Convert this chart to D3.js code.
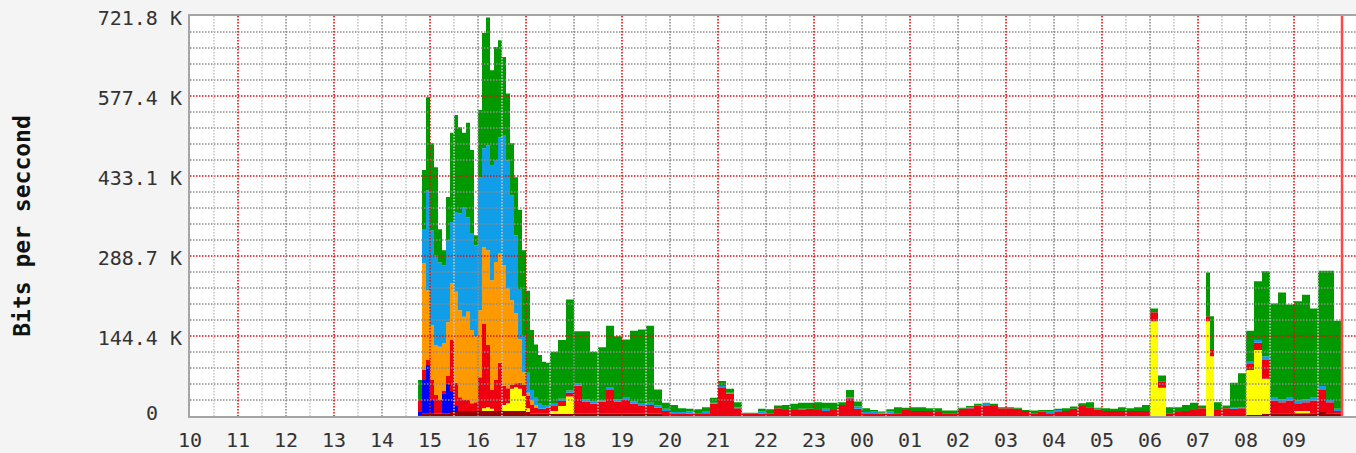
<!DOCTYPE html>
<html>
<head>
<meta charset="utf-8">
<script src="https://cdn.jsdelivr.net/npm/d3@7"></script>
<style>
  body { margin: 0; background: #f4f4f4; }
  svg { display: block; }
  .lbl { font-family: "DejaVu Sans Mono", monospace; font-size: 20px; fill: #333; white-space: pre; }
  .title { font-family: "DejaVu Sans Mono", monospace; font-size: 23px; font-weight: bold; fill: #111; }
</style>
</head>
<body>
<div id="chart"></div>
<script>
// sample times (5 min while it's busy, 10 min after that)
var times = [
  "14:45","14:50","14:55","15:00","15:05","15:10","15:15","15:20","15:25","15:30","15:35","15:40","15:45","15:50","15:55",
  "16:00","16:05","16:10","16:15","16:20","16:25","16:30","16:35","16:40","16:45","16:50","16:55",
  "17:00","17:05","17:10","17:15","17:20","17:25",
  "17:30","17:40","17:50","18:00","18:10","18:20","18:30","18:40","18:50","19:00","19:10","19:20","19:30","19:40",
  "19:50","20:00","20:10","20:20","20:30","20:40","20:50","21:00","21:10","21:20","21:30","21:40","21:50",
  "22:00","22:10","22:20","22:30","22:40","22:50","23:00","23:10","23:20","23:30","23:40","23:50",
  "00:00","00:10","00:20","00:30","00:40","00:50","01:00","01:10","01:20","01:30","01:40","01:50",
  "02:00","02:10","02:20","02:30","02:40","02:50","03:00","03:10","03:20","03:30","03:40","03:50",
  "04:00","04:10","04:20","04:30","04:40","04:50","05:00","05:10","05:20","05:30","05:40","05:50",
  "06:00","06:10","06:20","06:30","06:40","06:50","07:00","07:10","07:15","07:20","07:30","07:40","07:50",
  "08:00","08:10","08:20","08:30","08:40","08:50","09:00","09:10","09:20","09:30","09:40","09:50","10:00"
];

// series values in K bits per second, stacked bottom to top
var darkRed = [
  2,4,4,4,4,4,5,5,7,7,9,9,9,9,9,
  9,9,9,9,9,9,9,9,9,9,9,9,
  7,4,4,4,4,4,
  4,4,4,4,4,4,4,4,4,4,4,4,4,4,
  0,0,0,0,0,0,0,0,0,0,0,0,0,0,0,0,0,0,0,0,0,0,0,0,0,
  0,0,0,0,0,0,0,0,0,0,0,0,0,0,0,0,0,0,0,0,0,0,0,0,0,0,0,0,0,0,0,0,0,0,0,0,
  0,0,0,0,0,0,0,0,0,0,0,0,0,
  2,2,4,5,5,5,5,5,5,7,5,4,0
];
var blue = [
  5,61,88,25,0,0,36,54,38,11,0,0,0,0,0,
  0,0,0,0,0,0,0,0,0,0,0,0,
  0,0,0,0,0,0,
  0,0,0,0,0,0,0,0,0,0,0,0,0,0,
  0,0,0,0,0,0,0,0,0,0,0,0,0,0,0,0,0,0,0,0,0,0,0,0,0,
  0,0,0,0,0,0,0,0,0,0,0,0,0,0,0,0,0,0,0,0,0,0,0,0,0,0,0,0,0,0,0,0,0,0,0,0,
  0,0,0,0,0,0,0,0,0,0,0,0,0,
  0,0,0,0,0,0,0,0,0,0,0,0,0
];
var yellow = [
  0,0,0,0,0,0,0,0,0,0,0,0,0,0,0,
  0,5,7,4,0,0,11,14,40,43,40,27,
  7,0,0,0,0,0,
  5,14,31,0,0,0,0,0,0,0,0,0,0,0,
  0,0,0,0,0,0,0,0,0,0,0,0,0,0,0,0,0,0,0,0,0,0,0,0,0,
  0,0,0,0,0,0,0,0,0,0,0,0,0,0,0,0,0,0,0,0,0,0,0,0,0,0,0,0,0,0,0,0,0,0,0,0,
  171,51,0,0,0,0,0,171,108,0,0,0,0,
  81,117,63,0,0,0,4,4,0,0,0,0,0
];
var red = [
  22,18,9,36,34,25,5,14,92,42,25,20,20,14,16,
  61,153,112,34,56,87,34,27,7,7,11,20,
  23,16,11,9,9,11,
  9,9,7,51,22,18,22,43,22,25,18,14,16,11,
  9,5,5,4,5,5,22,52,40,14,4,4,4,5,14,11,11,11,13,11,9,11,20,32,13,
  5,5,4,4,5,11,9,9,9,7,5,5,13,14,18,18,18,14,14,13,9,5,7,5,7,9,13,18,16,11,9,9,9,9,9,9,
  16,11,5,7,9,11,14,9,11,11,14,13,14,
  11,13,34,23,20,23,14,16,23,40,20,5,0
];
var orange = [
  0,193,126,99,90,96,85,96,103,164,157,150,159,132,119,
  121,137,171,198,213,198,218,180,153,126,78,23,
  5,9,4,0,0,0,
  0,0,0,0,0,0,0,0,0,0,0,0,0,0,
  0,0,0,0,0,0,0,0,0,0,0,0,0,0,0,0,0,0,0,0,0,0,0,0,0,
  0,0,0,0,0,0,0,0,0,0,0,0,0,0,0,0,0,0,0,0,0,0,0,0,0,0,0,0,0,0,0,0,0,0,0,0,
  0,0,0,0,0,0,0,0,0,0,0,0,0,
  0,0,0,0,0,0,0,0,0,0,0,0,0
];
var lightBlue = [
  0,60,180,171,162,152,141,148,110,144,175,198,170,175,164,
  240,179,189,208,184,209,235,231,189,141,90,67,
  36,18,14,9,7,5,
  4,4,4,4,4,4,2,4,4,4,4,4,4,4,
  4,2,2,4,0,4,2,2,2,2,0,0,4,0,0,0,0,2,0,0,4,0,0,2,4,
  2,4,2,4,0,0,0,0,0,0,0,0,0,2,2,4,0,0,0,0,0,0,2,4,4,0,0,0,0,2,0,0,0,0,0,0,
  0,0,0,0,0,0,0,0,0,0,0,2,2,
  4,5,7,5,5,5,5,5,5,7,4,4,0
];
var green = [
  36,108,168,157,159,60,27,78,161,175,155,134,171,150,18,
  121,208,231,171,204,175,141,121,94,105,144,153,
  148,108,96,88,78,76,
  94,106,164,94,123,90,96,112,114,105,128,134,139,29,
  11,13,7,5,7,7,9,9,7,9,2,2,5,7,5,9,11,11,11,14,11,13,5,13,9,
  7,2,2,4,11,4,7,7,5,7,5,5,2,2,2,2,4,2,2,2,2,5,2,2,2,5,4,5,9,2,5,4,7,5,7,11,
  7,11,11,9,11,13,5,79,61,14,5,45,61,
  56,106,153,170,193,168,179,189,161,208,233,159,0
];

var seriesKeys = ["darkRed", "blue", "yellow", "red", "orange", "lightBlue", "green"];
var seriesValues = [darkRed, blue, yellow, red, orange, lightBlue, green];
var seriesColors = ["#990000", "#0000ff", "#ffff00", "#ee0011", "#ff9900", "#109ee8", "#009900"];

// axis labels
var hourLabels = ["10","11","12","13","14","15","16","17","18","19","20","21","22","23",
                  "00","01","02","03","04","05","06","07","08","09"];
var yTickValues = [0, 144.4, 288.7, 433.1, 577.4, 721.8];
var yTickLabels = ["0  ", "144.4 K", "288.7 K", "433.1 K", "577.4 K", "721.8 K"];
var yTitle = "Bits per seccond";

// size
var W = 1356, H = 453;
var margin = {top: 16, left: 190},
    width = 1152,
    height = 400;

var x = d3.scaleLinear().domain([0, 1440]).range([margin.left, margin.left + width]);
var y = d3.scaleLinear().domain([0, 721.8]).range([margin.top + height, margin.top]);

// minutes since 10:00, rolling over midnight
var prev = -1, dayOff = 0;
var rows = times.map(function(t, i) {
  var p = t.split(":");
  var m = (+p[0]) * 60 + (+p[1]) - 600;
  if (m < 0) m += 1440;
  m += dayOff;
  if (m < prev) { dayOff += 1440; m += 1440; }
  prev = m;
  var row = {m: m};
  seriesKeys.forEach(function(k, j) { row[k] = seriesValues[j][i]; });
  return row;
});

var stacked = d3.stack().keys(seriesKeys)(rows);

var svg = d3.select("#chart").append("svg")
  .attr("width", W)
  .attr("height", H);

// plot background
svg.append("rect")
  .attr("x", margin.left).attr("y", margin.top)
  .attr("width", W - margin.left).attr("height", height)
  .attr("fill", "#ffffff");

// stacked areas
var area = d3.area()
  .x(function(d) { return x(d.data.m); })
  .y0(function(d) { return y(d[0]); })
  .y1(function(d) { return y(d[1]); })
  .curve(d3.curveStepAfter);

svg.append("g").selectAll("path")
  .data(stacked)
  .enter().append("path")
  .attr("d", area)
  .attr("fill", function(d, i) { return seriesColors[i]; });

// grid, drawn over the data like mrtg does
var grid = svg.append("g").attr("stroke-dasharray", "1.5,1.5").attr("stroke-width", 1.6).attr("fill", "none");

// horizontal: 4 minor lines between each labelled value
for (var i = 0; i < yTickValues.length - 1; i++) {
  var a = yTickValues[i], b = yTickValues[i + 1];
  for (var k = 1; k < 5; k++) {
    var v = a + (b - a) * k / 5;
    grid.append("line")
      .attr("x1", margin.left).attr("x2", W)
      .attr("y1", y(v)).attr("y2", y(v))
      .attr("stroke", "#8c8c8c");
  }
  if (i > 0) {
    grid.append("line")
      .attr("x1", margin.left).attr("x2", W)
      .attr("y1", y(a)).attr("y2", y(a))
      .attr("stroke", "#e01010");
  }
}

// vertical: half hours light, hours grey, every other hour red
for (var hh = 1; hh <= 50; hh++) {
  var mm = hh * 30;
  var col = "#c8c8c8";
  if (hh % 2 === 0) col = ((hh / 2) % 2 === 1) ? "#e01010" : "#8c8c8c";
  grid.append("line")
    .attr("x1", x(mm)).attr("x2", x(mm))
    .attr("y1", margin.top).attr("y2", margin.top + height)
    .attr("stroke", col);
}

// frame
var frame = svg.append("g").attr("stroke", "#a4a4a4").attr("stroke-width", 2);
frame.append("line").attr("x1", margin.left - 1).attr("x2", W).attr("y1", margin.top - 1).attr("y2", margin.top - 1);
frame.append("line").attr("x1", margin.left - 1).attr("x2", margin.left - 1).attr("y1", margin.top - 2).attr("y2", margin.top + height + 2);
frame.append("line").attr("x1", margin.left - 1).attr("x2", W).attr("y1", margin.top + height + 1).attr("y2", margin.top + height + 1);

// "now" marker at the right end
svg.append("line")
  .attr("x1", x(1440)).attr("x2", x(1440))
  .attr("y1", margin.top).attr("y2", margin.top + height)
  .attr("stroke", "#ff4848").attr("stroke-width", 2.5);

// y labels
svg.selectAll(".ylbl")
  .data(yTickValues)
  .enter().append("text")
  .attr("class", "lbl ylbl")
  .attr("x", 182)
  .attr("y", function(d) { return Math.min(y(d) + 9, 420); })
  .attr("text-anchor", "end")
  .text(function(d, i) { return yTickLabels[i]; });

// x labels
svg.selectAll(".xlbl")
  .data(hourLabels)
  .enter().append("text")
  .attr("class", "lbl xlbl")
  .attr("x", function(d, i) { return x(i * 60); })
  .attr("y", 447)
  .attr("text-anchor", "middle")
  .attr("fill", "#222")
  .text(function(d) { return d; });

// y title
svg.append("text")
  .attr("class", "title")
  .attr("transform", "translate(30," + 226 + ") rotate(-90)")
  .attr("text-anchor", "middle")
  .text(yTitle);
</script>
</body>
</html>
